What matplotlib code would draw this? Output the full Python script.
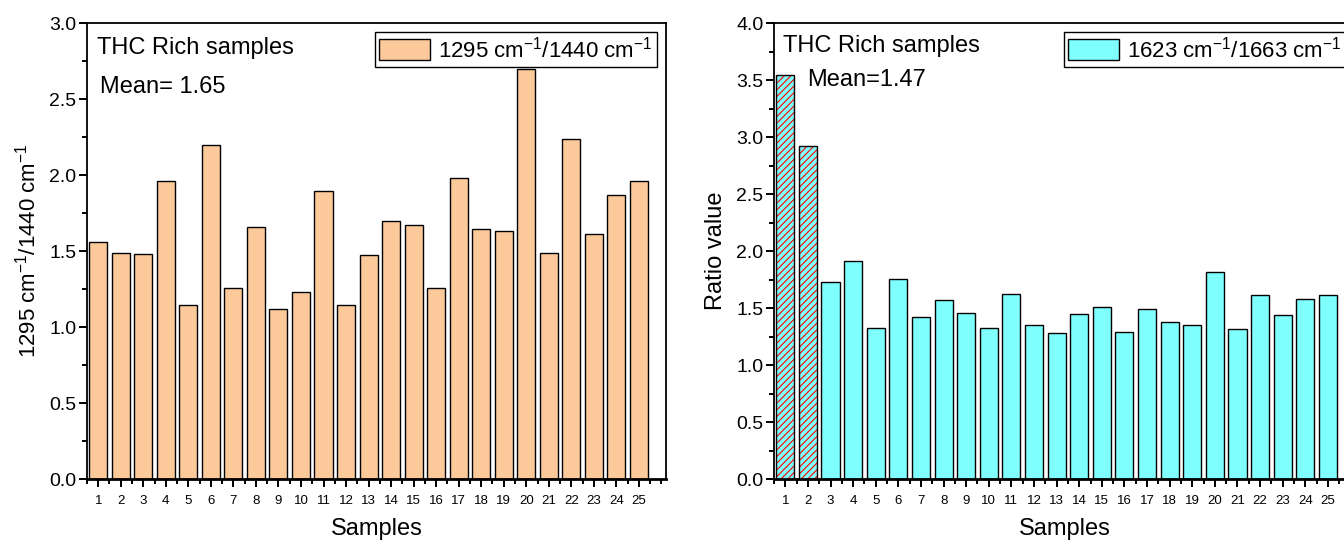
import numpy as np
import matplotlib
matplotlib.use("Agg")
import matplotlib.pyplot as plt
from matplotlib.ticker import MultipleLocator

plt.rcParams['font.family'] = ['Liberation Sans', 'DejaVu Sans']
plt.rcParams['mathtext.fontset'] = 'custom'
plt.rcParams['mathtext.rm'] = 'Liberation Sans'
plt.rcParams['mathtext.it'] = 'Liberation Sans'
plt.rcParams['mathtext.default'] = 'regular'
plt.rcParams['hatch.linewidth'] = 0.8

# data
samples = np.arange(1, 26)
ratio_1295_1440 = [1.56, 1.49, 1.48, 1.96, 1.145, 2.20, 1.257, 1.66, 1.12, 1.232,
                   1.895, 1.145, 1.476, 1.70, 1.669, 1.255, 1.978, 1.645, 1.634, 2.695,
                   1.485, 2.235, 1.61, 1.866, 1.96]
ratio_1623_1663 = [3.544, 2.918, 1.729, 1.912, 1.326, 1.753, 1.421, 1.571, 1.453, 1.326,
                   1.626, 1.35, 1.282, 1.447, 1.509, 1.288, 1.491, 1.379, 1.35, 1.82,
                   1.315, 1.615, 1.435, 1.582, 1.615]
hatched_samples = [1, 2]
label_left = '1295 cm$^{-1}$/1440 cm$^{-1}$'
label_right = '1623 cm$^{-1}$/1663 cm$^{-1}$'
mean_left = 'Mean= 1.65'
mean_right = 'Mean=1.47'

peach = '#FBC99A'
cyan = '#80FFFF'


def style_axis(ax, ymax):
    ax.set_xlim(0.5, 26.2)
    ax.set_ylim(0, ymax)
    ax.set_xticks(samples)
    ax.set_xticklabels([str(s) for s in samples], fontsize=9.5)
    ax.xaxis.set_minor_locator(MultipleLocator(0.5))
    ax.yaxis.set_major_locator(MultipleLocator(0.5))
    ax.yaxis.set_minor_locator(MultipleLocator(0.25))
    ax.tick_params(axis='both', which='major', direction='out', length=5.5, width=1.4,
                   top=False, right=False)
    ax.tick_params(axis='both', which='minor', direction='out', length=3.3, width=1.4,
                   top=False, right=False)
    ax.tick_params(axis='y', labelsize=14, pad=2)
    ax.tick_params(axis='x', pad=6)
    for sp in ax.spines.values():
        sp.set_linewidth(1.3)
    ax.spines['bottom'].set_linewidth(2.0)
    ax.set_xlabel('Samples', fontsize=17, labelpad=8)


def add_legend(ax):
    leg = ax.legend(loc='upper right', fontsize=16, handlelength=2.3, handleheight=1.1,
                    fancybox=False, edgecolor='black', framealpha=1,
                    borderaxespad=0.4, borderpad=0.2, handletextpad=0.35)
    leg.get_frame().set_linewidth(1.0)
    return leg


fig = plt.figure(figsize=(13.44, 5.42), dpi=100)

# left panel
ax1 = fig.add_axes([0.0647, 0.1162, 0.4308, 0.8413])
ax1.bar(samples, ratio_1295_1440, width=0.8, color=peach, edgecolor='black',
        linewidth=1.0, label=label_left)
style_axis(ax1, 3.0)
ax1.set_ylabel(label_left, fontsize=16)
ax1.yaxis.set_label_coords(-0.080, 0.5)
ax1.text(0.017, 0.945, 'THC Rich samples', transform=ax1.transAxes, fontsize=17,
         va='center', ha='left')
ax1.text(0.022, 0.86, mean_left, transform=ax1.transAxes, fontsize=17,
         va='center', ha='left')
add_legend(ax1)

# right panel
ax2 = fig.add_axes([0.5759, 0.1162, 0.4323, 0.8413])
plain = [s not in hatched_samples for s in samples]
ax2.bar(samples[plain], np.array(ratio_1623_1663)[plain], width=0.8, color=cyan,
        edgecolor='black', linewidth=1.0, label=label_right)
hs = np.array(hatched_samples)
hv = np.array(ratio_1623_1663)[hs - 1]
ax2.bar(hs, hv, width=0.8, color=cyan, edgecolor='red', linewidth=0, hatch='/////')
ax2.bar(hs, hv, width=0.8, color='none', edgecolor='black', linewidth=1.0)
style_axis(ax2, 4.0)
ax2.set_ylabel('Ratio value', fontsize=17)
ax2.yaxis.set_label_coords(-0.081, 0.5)
ax2.text(0.016, 0.95, 'THC Rich samples', transform=ax2.transAxes, fontsize=17,
         va='center', ha='left')
ax2.text(0.057, 0.875, mean_right, transform=ax2.transAxes, fontsize=17,
         va='center', ha='left')
add_legend(ax2)

fig.savefig('out.png', dpi=100)
